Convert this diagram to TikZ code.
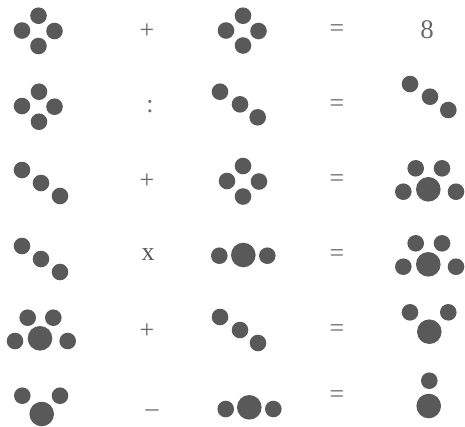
\documentclass[tikz,border=0pt]{standalone}
\usepackage{fontspec}
\setmainfont{Liberation Serif}
\definecolor{dotgray}{HTML}{595959}
\definecolor{opgray}{HTML}{6A6A6A}

\begin{document}
\begin{tikzpicture}[
    x=1bp, y=-1bp,
    dot/.style={fill=dotgray},
    op/.style={font=\fontsize{26}{26}\selectfont, text=opgray, inner sep=0pt},
    res/.style={font=\fontsize{27}{27}\selectfont, text=opgray, inner sep=0pt}
]
\useasboundingbox (0,0) rectangle (465,426);

% ============ ROW 1: diamond + diamond = 8 ============
\foreach \x/\y in {38.5/15.7, 22/30.5, 54.5/31, 38.5/46} {
    \fill[dot] (\x,\y) circle (8.3bp);
}
\node[op] (plus1) at (147,31) {+};
\foreach \x/\y in {243/15.7, 226/30.5, 258.5/31, 243/45.5} {
    \fill[dot] (\x,\y) circle (8.3bp);
}
\node[op] (eq1) at (337,31) {=};
\node[res] (res1) at (427,30) {8};

% ============ ROW 2: diamond : diagonal = diagonal ============
\foreach \x/\y in {39/91.7, 22/106, 54.5/106.7, 39/121.7} {
    \fill[dot] (\x,\y) circle (8.3bp);
}
\node[op] (div2) at (150,107) {:};
\foreach \x/\y in {220/91.7, 240/104.3, 257.7/117.3} {
    \fill[dot] (\x,\y) circle (8.3bp);
}
\node[op] (eq2) at (337,106) {=};
\foreach \x/\y in {410/84, 430/96.7, 448.3/110} {
    \fill[dot] (\x,\y) circle (8.3bp);
}

% ============ ROW 3: diagonal + diamond = paw ============
\foreach \x/\y in {22/170, 41/183, 60/196} {
    \fill[dot] (\x,\y) circle (8.3bp);
}
\node[op] (plus3) at (147,181) {+};
\foreach \x/\y in {243/166, 227/181, 259/181.5, 243/196.5} {
    \fill[dot] (\x,\y) circle (8.3bp);
}
\node[op] (eq3) at (337,181) {=};
\foreach \x/\y/\r in {415.7/168.3/8.3, 442/168.3/8.3, 403.3/191.7/8.3, 428.3/189.3/12.3, 456/191.7/8.3} {
    \fill[dot] (\x,\y) circle (\r bp);
}

% ============ ROW 4: diagonal x line = paw ============
\foreach \x/\y in {22/246, 41/259, 60/272} {
    \fill[dot] (\x,\y) circle (8.3bp);
}
\node[op, text=dotgray] (times4) at (148,255) {x};
\foreach \x/\y/\r in {219.3/255.7/8.3, 243.3/255/12.3, 267.3/255.7/8.3} {
    \fill[dot] (\x,\y) circle (\r bp);
}
\node[op] (eq4) at (337,256) {=};
\foreach \x/\y/\r in {415.7/243.3/8.3, 442/243.3/8.3, 403.3/266.7/8.3, 428.3/264.3/12.3, 456/266.7/8.3} {
    \fill[dot] (\x,\y) circle (\r bp);
}

% ============ ROW 5: paw + diagonal = small paw ============
\foreach \x/\y/\r in {27.7/317.7/8.3, 53.3/317.7/8.3, 15/341/8.3, 40/338.3/12.3, 67.7/341/8.3} {
    \fill[dot] (\x,\y) circle (\r bp);
}
\node[op] (plus5) at (147,331) {+};
\foreach \x/\y in {220/317, 240/330, 258/343} {
    \fill[dot] (\x,\y) circle (8.3bp);
}
\node[op] (eq5) at (337,331) {=};
\foreach \x/\y/\r in {410/312.3/8.3, 448.3/312.3/8.3, 429.3/331.7/12.3} {
    \fill[dot] (\x,\y) circle (\r bp);
}

% ============ ROW 6: small paw - line = stack ============
\foreach \x/\y/\r in {22.3/395.7/8.3, 60/395.7/8.3, 41.7/414/12.3} {
    \fill[dot] (\x,\y) circle (\r bp);
}
\node[op] (minus6) at (152,413) {–};
\foreach \x/\y/\r in {225.7/409/8.3, 249.3/407.3/12.3, 273.3/409/8.3} {
    \fill[dot] (\x,\y) circle (\r bp);
}
\node[op] (eq6) at (337,397) {=};
\foreach \x/\y/\r in {429.3/380.7/8.3, 428.7/406/12.3} {
    \fill[dot] (\x,\y) circle (\r bp);
}

\end{tikzpicture}
\end{document}
